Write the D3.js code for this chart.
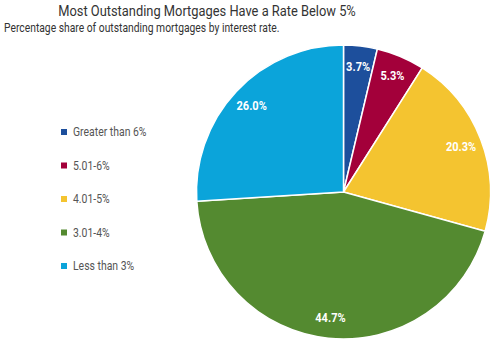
<!DOCTYPE html>
<html><head><meta charset="utf-8">
<script src="https://cdn.jsdelivr.net/npm/d3@7"></script>
<style>
body{margin:0;background:#fff;}
svg{display:block;}
text{font-family:"Roboto","Liberation Sans",sans-serif;}
</style></head>
<body>
<script>
const categories = ["Greater than 6%", "5.01-6%", "4.01-5%", "3.01-4%", "Less than 3%"];
const values = [3.7, 5.3, 20.3, 44.7, 26.0];
const colors = ["#1d4f9c", "#a3003a", "#f4c430", "#548a30", "#0ba4da"];
const title = "Most Outstanding Mortgages Have a Rate Below 5%";
const subtitle = "Percentage share of outstanding mortgages by interest rate.";

const W = 499, H = 347;
const svg = d3.select("body").append("svg").attr("width", W).attr("height", H);

svg.append("text").attr("transform", "translate(207,16) scale(0.92,1)").attr("text-anchor", "middle")
  .attr("font-size", 14).attr("fill", "#333").text(title);
svg.append("text").attr("transform", "translate(4,32) scale(0.86,1)")
  .attr("font-size", 12).attr("fill", "#333").text(subtitle);

const cx = 343.5, cy = 192, R = 147;
const data = categories.map((c, i) => ({cat: c, value: values[i], color: colors[i]}));
const pie = d3.pie().value(d => d.value).sort(null);
const arc = d3.arc().innerRadius(0).outerRadius(R);
const labelArc = d3.arc().innerRadius(126).outerRadius(126);
const g = svg.append("g").attr("transform", `translate(${cx},${cy})`);
const arcs = pie(data);
g.selectAll("path").data(arcs).join("path")
  .attr("d", arc).attr("fill", d => d.data.color)
  .attr("stroke", "#fff").attr("stroke-width", 1.5);
g.selectAll("text.lbl").data(arcs).join("text").attr("class", "lbl")
  .attr("transform", d => `translate(${labelArc.centroid(d)}) scale(0.92,1)`)
  .attr("text-anchor", "middle").attr("dy", "0.35em")
  .attr("font-size", 12).attr("font-weight", "bold").attr("fill", "#fff")
  .text(d => d3.format(".1f")(d.data.value) + "%");

const lg = svg.append("g");
const rows = lg.selectAll("g").data(data).join("g")
  .attr("transform", (d, i) => `translate(61, ${132 + i * 33.5})`);
rows.append("rect").attr("x", 0).attr("y", -3).attr("width", 6).attr("height", 6)
  .attr("fill", d => d.color);
rows.append("text").attr("transform", "translate(12,0) scale(0.87,1)").attr("dy", "0.35em").attr("font-size", 12)
  .attr("fill", "#555").text(d => d.cat);
</script>
</body></html>
